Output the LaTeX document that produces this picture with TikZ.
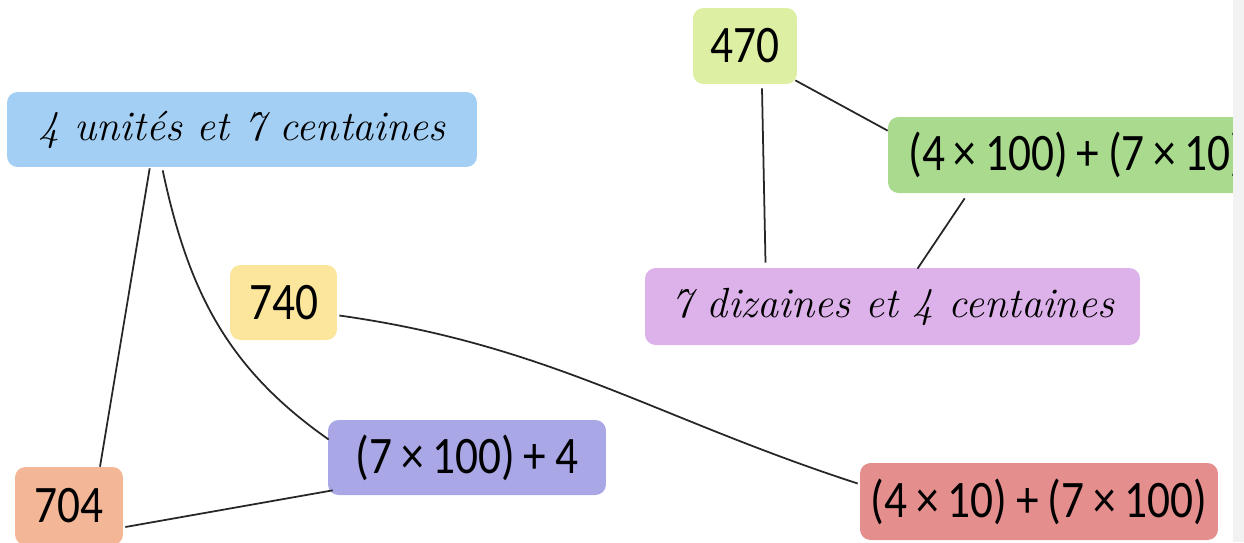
\documentclass[tikz,border=0pt]{standalone}
\usepackage{fontspec}
\newfontfamily\chiffre[FakeStretch=0.86]{Carlito}
\usetikzlibrary{positioning,calc}
\definecolor{bleu}{HTML}{A3CFF4}
\definecolor{jaune}{HTML}{FBE69C}
\definecolor{saumon}{HTML}{F3B797}
\definecolor{lavande}{HTML}{A9A7E6}
\definecolor{rose}{HTML}{E58E8E}
\definecolor{anis}{HTML}{DDEFA2}
\definecolor{vert}{HTML}{A9DA8E}
\definecolor{mauve}{HTML}{DDB2EA}
\begin{document}
\begin{tikzpicture}
[x=0.02cm,y=0.02cm,
card/.style={shape=rectangle,rounded corners=6pt,inner sep=0pt,minimum height=1.5cm},
chiffres/.style={card,font=\chiffre\fontsize{30}{34}\selectfont},
ecrit/.style={card,font=\itshape\fontsize{24}{28}\selectfont},
myedge/.style={line width=1pt,draw=black!85}]
\useasboundingbox (0,0) rectangle (1244,-542);
%%
\node (unites) [ecrit,fill=bleu,minimum width=9.4cm] at (242,-129.5) {4 unités et 7 centaines};
\node (n740) [chiffres,fill=jaune,minimum width=2.14cm] at (283.5,-302.5) {740};
\node (n704) [chiffres,fill=saumon,minimum width=2.16cm,minimum height=1.56cm] at (69,-506) {704};
\node (sept) [chiffres,fill=lavande,minimum width=5.56cm] at (467,-457.5) {(7\,×\,100)\,+\,4};
\node (rouge) [chiffres,fill=rose,minimum width=7.16cm,minimum height=1.54cm] at (1039,-501.5) {(4\,×\,10)\,+\,(7\,×\,100)};
%%
\node (n470) [chiffres,fill=anis,minimum width=2.08cm,minimum height=1.52cm] at (745,-46) {470};
\node (cent) [chiffres,fill=vert,minimum width=7.54cm,minimum height=1.52cm] at (1076.5,-155) {(4\,×\,100)\,+\,(7\,×\,10)};
\node (dizaines) [ecrit,fill=mauve,minimum width=9.9cm,minimum height=1.54cm] at (892.5,-306.5) {7 dizaines et 4 centaines};
%%
\draw[myedge] ($(unites.south west)+(143,-1)$) -- ($(n704.north)+(31,0)$);
\draw[myedge] ($(unites.south west)+(156,-3)$) to[out=-78,in=145] ($(sept.west)+(1,18)$);
\draw[myedge] ($(n704.east)+(2,-21)$) -- ($(sept.south west)+(5,5)$);
\draw[myedge] ($(n740.east)+(2,-13)$) to[out=-8,in=162] ($(rouge.west)+(-2,18)$);
\draw[myedge] ($(n470.south)+(17,-4)$) -- ($(dizaines.north)+(-127,5)$);
\draw[myedge] ($(n470.south east)+(-2,4)$) -- ($(cent.north west)+(0,-14)$);
\draw[myedge] ($(cent.south west)+(77,-5)$) -- ($(dizaines.north)+(25,-1)$);
%%
\fill[black!5] (1233,0) rectangle (1244,-542);
\end{tikzpicture}
\end{document}
